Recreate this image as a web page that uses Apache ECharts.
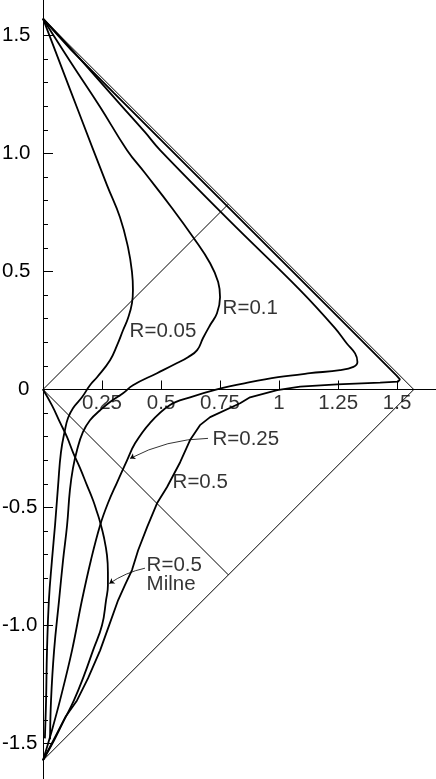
<!DOCTYPE html>
<html>
<head>
<meta charset="utf-8">
<script src="https://cdn.jsdelivr.net/npm/echarts@6/dist/echarts.min.js"></script>
<style>
html,body{margin:0;padding:0;background:#fff;}
#chart{width:436px;height:779px;}
</style>
</head>
<body>
<div id="chart"></div>
<script>
// ---- data (conformal coordinates) ----
const curveR005 = [
  [0, 1.5708], [0.148, 1.184], [0.271, 0.866], [0.326, 0.730], [0.360, 0.603],
  [0.377, 0.497], [0.381, 0.421], [0.377, 0.366], [0.360, 0.302], [0.339, 0.251],
  [0.314, 0.188], [0.284, 0.124], [0.229, 0.052], [0.199, 0.018], [0.165, -0.033],
  [0.127, -0.079], [0.106, -0.121], [0.093, -0.172], [0.076, -0.266], [0.064, -0.406],
  [0.051, -0.575], [0.038, -0.723], [0.025, -0.893], [0.017, -1.105], [0.013, -1.317],
  [0.008, -1.478]
];
const curveR01 = [
  [0, 1.5708], [0.114, 1.392], [0.242, 1.197], [0.356, 1.014], [0.432, 0.917],
  [0.547, 0.768], [0.636, 0.645], [0.708, 0.535], [0.742, 0.455], [0.750, 0.391],
  [0.737, 0.323], [0.708, 0.273], [0.678, 0.218], [0.653, 0.167], [0.614, 0.137],
  [0.568, 0.112], [0.483, 0.069], [0.381, 0.018], [0.339, -0.016], [0.284, -0.053],
  [0.242, -0.088], [0.199, -0.130], [0.169, -0.181], [0.144, -0.257], [0.127, -0.333],
  [0.114, -0.426], [0.102, -0.575], [0.085, -0.723], [0.068, -0.893], [0.047, -1.105],
  [0.034, -1.317], [0.030, -1.482]
];
const curveR025 = [
  [0, 1.5708], [0.093, 1.472], [0.199, 1.353], [0.326, 1.209], [0.432, 1.090],
  [0.496, 1.014], [0.792, 0.713], [1.089, 0.421], [1.237, 0.260], [1.287, 0.195],
  [1.322, 0.153], [1.332, 0.117], [1.315, 0.096], [1.258, 0.082], [1.131, 0.069],
  [0.996, 0.052], [0.877, 0.031], [0.737, 0.001], [0.623, -0.033], [0.538, -0.066],
  [0.453, -0.142], [0.390, -0.228], [0.356, -0.300], [0.314, -0.393], [0.275, -0.482],
  [0.242, -0.575], [0.203, -0.723], [0.165, -0.893], [0.123, -1.105], [0.072, -1.317],
  [0.038, -1.443], [0, -1.5708]
];
const curveR05 = [
  [0, 1.5708], [0.05, 1.515], [0.12, 1.438], [0.30, 1.257], [0.60, 0.957],
  [0.90, 0.657], [1.20, 0.357], [1.46, 0.097], [1.498, 0.059], [1.512, 0.043],
  [1.513, 0.036], [1.504, 0.033], [1.428, 0.029], [1.246, 0.022], [1.089, 0.012],
  [0.992, -0.003], [0.877, -0.033], [0.835, -0.058], [0.708, -0.117], [0.665, -0.151],
  [0.623, -0.214], [0.581, -0.308], [0.525, -0.414], [0.483, -0.482], [0.441, -0.583],
  [0.403, -0.681], [0.377, -0.765], [0.347, -0.829], [0.318, -0.893], [0.280, -0.999],
  [0.242, -1.105], [0.191, -1.223], [0.144, -1.317], [0.097, -1.384], [0.051, -1.473],
  [0, -1.5708]
];
const curveMilne = [
  [0, 0], [0.038, -0.067], [0.072, -0.139], [0.102, -0.202], [0.127, -0.266],
  [0.157, -0.333], [0.186, -0.405], [0.212, -0.469], [0.229, -0.520], [0.242, -0.562],
  [0.258, -0.626], [0.271, -0.702], [0.275, -0.774], [0.275, -0.829], [0.267, -0.893],
  [0.250, -0.999], [0.212, -1.105], [0.174, -1.211], [0.131, -1.317], [0.089, -1.401],
  [0.047, -1.486], [0, -1.5708]
];
const futureCone = [[0, 0], [0.7854, 0.7854]];
const pastCone = [[0, 0], [0.7854, -0.7854]];
const scriPlus = [[0, 1.5708], [1.5708, 0]];
const scriMinus = [[1.5708, 0], [0, -1.5708]];

const curveLabelTexts = ['R=0.05', 'R=0.1', 'R=0.25', 'R=0.5', 'R=0.5\nMilne'];
const curveLabelAnchors = [[0.369, 0.243], [0.763, 0.342], [0.720, -0.213], [0.551, -0.395], [0.441, -0.787]];
const arrowR025 = [[0.369, -0.292], [0.699, -0.207]];   // tip, tail
const arrowMilne = [[0.281, -0.822], [0.432, -0.757]];  // tip, tail

const xTickValues = [0.25, 0.5, 0.75, 1, 1.25, 1.5];
const xTickLabels = ['0.25', '0.5', '0.75', '1', '1.25', '1.5'];
const yTickValues = [-1.5, -1, -0.5, 0, 0.5, 1, 1.5];
const yTickLabels = ['-1.5', '-1.0', '-0.5', '0', '0.5', '1.0', '1.5'];
const yMinorTicks = [-1.4, -1.3, -1.2, -1.1, -0.9, -0.8, -0.7, -0.6, -0.4, -0.3, -0.2, -0.1,
                     0.1, 0.2, 0.3, 0.4, 0.6, 0.7, 0.8, 0.9, 1.1, 1.2, 1.3, 1.4];

// ---- chart ----
const FONT = "'Liberation Sans', Arial, Helvetica, sans-serif";
const FS = 20.5;
function pick(vals, labels, v) {
  for (let i = 0; i < vals.length; i++) if (Math.abs(vals[i] - v) < 1e-6) return labels[i];
  return '';
}
const chart = echarts.init(document.getElementById('chart'), null, {renderer: 'canvas'});

function curve(data, smooth, width) {
  return {
    type: 'line', data: data, showSymbol: false, symbol: 'none', smooth: smooth,
    lineStyle: {color: '#000', width: width}, silent: true, z: 3, clip: false
  };
}
function arrow(coords, curveness) {
  return {
    type: 'lines', coordinateSystem: 'cartesian2d', xAxisIndex: 0, yAxisIndex: 0,
    symbol: ['arrow', 'none'], symbolSize: [5, 8], silent: true, z: 4,
    lineStyle: {color: '#000', width: 0.8, curveness: curveness, opacity: 1},
    data: [{coords: coords}]
  };
}

chart.setOption({
  animation: false,
  backgroundColor: '#fff',
  textStyle: {fontFamily: FONT},
  grid: {left: 43, right: 0, top: 0, bottom: 0, containLabel: false, outerBoundsMode: 'none'},
  xAxis: {
    type: 'value', min: 0, max: 1.6648,
    axisLine: {show: true, onZero: true, lineStyle: {color: '#000', width: 1}},
    axisTick: {show: true, inside: true, length: 9, customValues: xTickValues, lineStyle: {color: '#000', width: 1}},
    axisLabel: {show: false},
    splitLine: {show: false}
  },
  yAxis: [{
    type: 'value', min: -1.65, max: 1.65,
    axisLine: {show: true, onZero: true, lineStyle: {color: '#000', width: 1}},
    axisTick: {show: true, inside: true, length: 10, customValues: yTickValues, lineStyle: {color: '#000', width: 1}},
    axisLabel: {show: true, customValues: yTickValues, margin: 41, align: 'left', color: '#000',
      fontSize: FS, fontFamily: FONT,
      formatter: v => {
        const s = pick(yTickValues, yTickLabels, v);
        return s === '0' ? '{z|0}' : s;
      },
      rich: {z: {padding: [0, 0, 0, 16], fontSize: FS, fontFamily: FONT, color: '#000'}}},
    splitLine: {show: false}
  }, {
    type: 'value', min: -1.65, max: 1.65, position: 'left', offset: 0,
    axisLine: {show: false, onZero: true},
    axisTick: {show: true, inside: true, length: 5, customValues: yMinorTicks, lineStyle: {color: '#000', width: 1}},
    axisLabel: {show: false},
    splitLine: {show: false}
  }],
  series: [
    curve(futureCone, false, 1),
    curve(pastCone, false, 1),
    curve(scriPlus, false, 1),
    curve(scriMinus, false, 1),
    curve(curveR005, 0.45, 1.8),
    curve(curveR01, 0.45, 1.8),
    curve(curveR025, 0.4, 1.8),
    curve(curveR05, false, 1.8),
    curve(curveMilne, 0.45, 1.8),
    arrow(arrowR025, 0.12),
    arrow(arrowMilne, 0.1),
    {
      // x-axis tick labels, placed on the axis scale
      type: 'scatter', silent: true, z: 5, symbol: 'circle', symbolSize: 1,
      itemStyle: {color: 'rgba(0,0,0,0)'},
      data: xTickValues.map((v, i) => ({value: [v, 0], name: xTickLabels[i]})),
      label: {show: true, position: 'bottom', distance: 2.5, align: 'center', verticalAlign: 'top',
        formatter: '{b}', color: '#000', fontSize: FS, fontFamily: FONT}
    },
    {
      type: 'scatter', silent: true, z: 5, symbol: 'circle', symbolSize: 1,
      itemStyle: {color: 'rgba(0,0,0,0)'},
      data: curveLabelAnchors.map((p, i) => ({value: p, name: curveLabelTexts[i]})),
      label: {show: true, position: [0, 0], align: 'left', verticalAlign: 'middle',
        formatter: '{b}', color: '#000', fontSize: FS, fontFamily: FONT, lineHeight: 19}
    }
  ]
});
</script>
</body>
</html>
